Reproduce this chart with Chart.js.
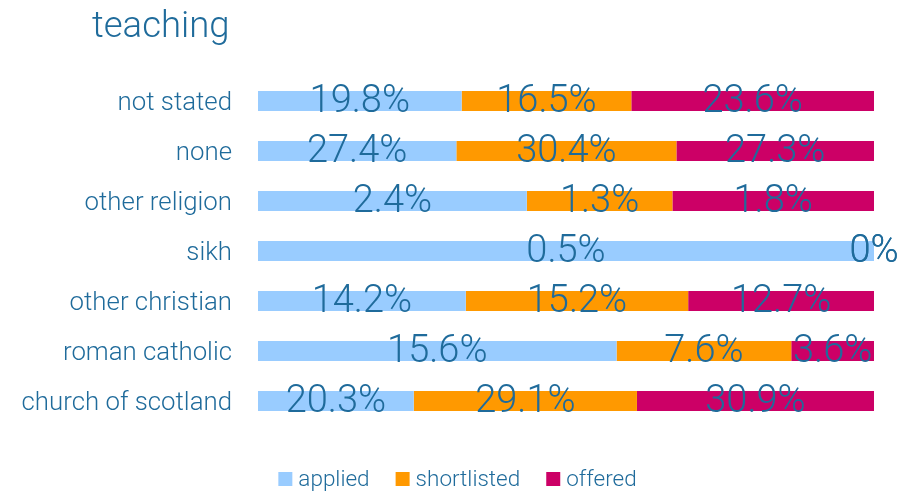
<!DOCTYPE html>
<html>
<head>
<meta charset="utf-8">
<script src="https://cdn.jsdelivr.net/npm/chart.js@4"></script>
<style>
  html, body { margin: 0; padding: 0; background: #fff; }
  #wrap { width: 915px; height: 492px; position: relative; }
</style>
</head>
<body>
<div id="wrap"><canvas id="chart"></canvas></div>
<script>
// -- data (raw percentages as shown in the labels) --
const categories = ['not stated', 'none', 'other religion', 'sikh', 'other christian', 'roman catholic', 'church of scotland'];
const applied     = [19.8, 27.4, 2.4, 0.5, 14.2, 15.6, 20.3];
const shortlisted = [16.5, 30.4, 1.3, 0,   15.2, 7.6,  29.1];
const offered     = [23.6, 27.3, 1.8, 0,   12.7, 3.6,  30.9];
const seriesNames = ['applied', 'shortlisted', 'offered'];

const TEXT = '#1f6b9b';
const FONT = "'Roboto', 'Liberation Sans', sans-serif";
const COLORS = ['#99ccff', '#ff9900', '#cc0066'];

// bars are stacked to 100% of each row
const raw = [applied, shortlisted, offered];
const totals = categories.map((_, i) => raw.reduce((s, arr) => s + arr[i], 0));
const share = raw.map(arr => arr.map((v, i) => totals[i] ? v / totals[i] * 100 : 0));

const datasets = seriesNames.map((name, k) => ({
    label: name,
    data: share[k],
    rawValues: raw[k],
    backgroundColor: COLORS[k],
    barPercentage: 0.4,
    categoryPercentage: 1.0,
}));

// title drawn at a fixed offset like the original
const titlePlugin = {
    id: 'fixedTitle',
    afterDraw(chart) {
        const c = chart.ctx;
        c.save();
        c.font = `300 36.5px ${FONT}`;
        c.fillStyle = TEXT;
        c.textBaseline = 'alphabetic';
        c.textAlign = 'left';
        c.fillText('teaching', 92, 37);
        c.restore();
    },
};

// value labels centred on each segment
const valueLabels = {
    id: 'valueLabels',
    afterDatasetsDraw(chart) {
        const c = chart.ctx;
        c.save();
        c.font = `300 38px ${FONT}`;
        c.fillStyle = TEXT;
        c.textAlign = 'center';
        c.textBaseline = 'middle';
        chart.data.datasets.forEach((ds, di) => {
            chart.getDatasetMeta(di).data.forEach((bar, i) => {
                const x = (bar.x + bar.base) / 2;
                c.fillText(ds.rawValues[i] + '%', x, bar.y + 1);
            });
        });
        c.restore();
    },
};

// compact legend centred under the chart (square, small gap, label)
const bottomLegend = {
    id: 'bottomLegend',
    afterDraw(chart) {
        const c = chart.ctx;
        const box = 14, gap = 6, itemGap = 26, cy = 479;
        c.save();
        c.font = `300 22.5px ${FONT}`;
        c.textBaseline = 'middle';
        c.textAlign = 'left';
        const items = chart.data.datasets.map(ds => ({
            text: ds.label, color: ds.backgroundColor, w: c.measureText(ds.label).width,
        }));
        const total = items.reduce((s, it) => s + box + gap + it.w, 0) + itemGap * (items.length - 1);
        let x = (chart.width - total) / 2;
        items.forEach(it => {
            c.fillStyle = it.color;
            c.fillRect(x, cy - box / 2, box, box);
            c.fillStyle = TEXT;
            c.fillText(it.text, x + box + gap, cy + 1);
            x += box + gap + it.w + itemGap;
        });
        c.restore();
    },
};

new Chart(document.getElementById('chart'), {
    type: 'bar',
    data: { labels: categories, datasets },
    options: {
        indexAxis: 'y',
        responsive: true,
        maintainAspectRatio: false,
        animation: false,
        layout: { padding: { top: 76, left: 20, right: 41, bottom: 66 } },
        plugins: {
            legend: { display: false },
            tooltip: { enabled: false },
        },
        scales: {
            x: {
                stacked: true,
                min: 0,
                max: 100,
                display: false,
            },
            y: {
                stacked: true,
                grid: { display: false, drawTicks: false },
                border: { display: false },
                afterFit(scale) { scale.width = 238; },
                ticks: {
                    color: TEXT,
                    padding: 26,
                    labelOffset: 3,
                    font: { family: FONT, size: 25.8, weight: '300' },
                },
            },
        },
    },
    plugins: [titlePlugin, valueLabels, bottomLegend],
});
</script>
</body>
</html>
